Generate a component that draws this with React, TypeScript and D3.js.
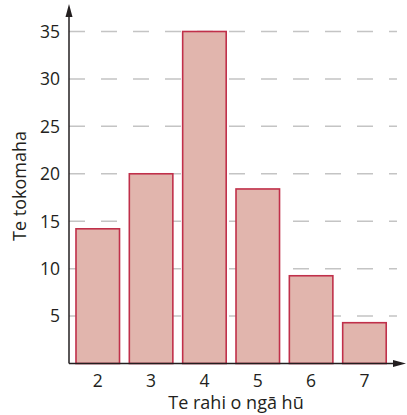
import React from "react";
import * as d3 from "d3";

const categories = ["2", "3", "4", "5", "6", "7"];
const values = [14.2, 20, 35, 18.4, 9.25, 4.3];
const yTicks = [5, 10, 15, 20, 25, 30, 35];
const xTitle = "Te rahi o ngā hū";
const yTitle = "Te tokomaha";

export default function App() {
  const W = 407, H = 415;
  const x0 = 69, y0 = 363.5;
  const y = d3.scaleLinear().domain([0, 35]).range([y0, 31.5]);
  const x = d3.scaleBand<string>().domain(categories).range([x0, 393.2]).paddingInner(0.184).paddingOuter(0.131);
  const font = "'Open Sans', sans-serif";
  return (
    <svg width={W} height={H} style={{ position: "absolute", left: 0, top: 0 }}>
      <rect width={W} height={H} fill="#fff" />
      {yTicks.map((t) => (
        <g key={t}>
          <line x1={x0} x2={397} y1={y(t)} y2={y(t)} stroke="#c4c4c4" strokeWidth={1.5} strokeDasharray="16,16" />
          <text x={60} y={y(t)} dy="0.36em" textAnchor="end" fontFamily={font} fontSize={17.5} fill="#231f20">{t}</text>
        </g>
      ))}
      {categories.map((c, i) => (
        <rect key={c} x={x(c)!} y={y(values[i])} width={x.bandwidth()} height={y0 - y(values[i])}
          fill="#e1b5ad" stroke="#c0304a" strokeWidth={1.6} />
      ))}
      {categories.map((c) => (
        <text key={c} x={x(c)! + x.bandwidth() / 2} y={387} textAnchor="middle" fontFamily={font} fontSize={17.5} fill="#231f20">{c}</text>
      ))}
      <line x1={x0} x2={x0} y1={y0} y2={14} stroke="#231f20" strokeWidth={1.5} />
      <path d={`M${x0},4 L${x0 - 3.5},17 L${x0 + 3.5},17 Z`} fill="#231f20" />
      <line x1={x0} x2={398} y1={y0} y2={y0} stroke="#231f20" strokeWidth={1.5} />
      <path d={`M406,${y0} L393,${y0 - 3.5} L393,${y0 + 3.5} Z`} fill="#231f20" />
      <text x={236} y={409} textAnchor="middle" fontFamily={font} fontSize={18} fill="#231f20">{xTitle}</text>
      <text transform={`translate(26,${186}) rotate(-90)`} textAnchor="middle" fontFamily={font} fontSize={18} fill="#231f20">{yTitle}</text>
    </svg>
  );
}
